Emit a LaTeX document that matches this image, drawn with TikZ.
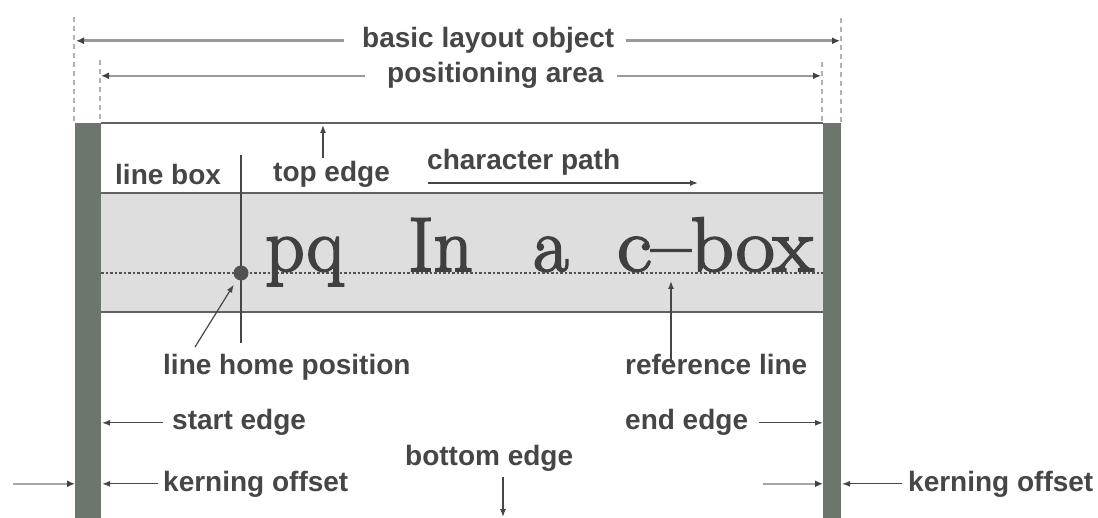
\documentclass[tikz,border=0pt]{standalone}
\usepackage{fontspec}
\usetikzlibrary{arrows.meta}
\newfontfamily\labfont{Liberation Sans}
\newfontfamily\bigfont[FakeBold=2.5]{Latin Modern Roman}
\definecolor{barcol}{RGB}{108,118,108}
\definecolor{labcol}{RGB}{70,70,70}
\begin{document}
\begin{tikzpicture}[x=1pt,y=-1pt,
  lab/.style={font=\labfont\bfseries\fontsize{28}{30}\selectfont, text=labcol, inner sep=0pt, anchor=base west},
  dimarrow/.style={draw=black!40, line width=2.6pt, -{Latex[length=8pt,width=7pt,color=black!75]}},
  tiparrow/.style={draw=black!72, line width=1.2pt, -{Latex[length=8pt,width=6pt]}},
  lightarrow/.style={draw=black!35, line width=2.6pt, -{Latex[length=8pt,width=7pt,color=black!75]}},
  guide/.style={draw=black!30, line width=1.3pt, dash pattern=on 5pt off 4pt},
  frameline/.style={draw=black!62, line width=1.8pt},
]
\useasboundingbox (0,0) rectangle (1098,518);
\fill[white] (0,0) rectangle (1098,518);

% line box band
\fill[black!13] (101,193) rectangle (823,312);
\draw[frameline] (101,123) -- (823,123);
\draw[frameline] (101,193) -- (823,193);
\draw[frameline] (101,312) -- (823,312);
\draw[black!68, line width=1.3pt, dash pattern=on 2.5pt off 2pt] (101,273) -- (823,273);

% bars
\fill[barcol] (75,123) rectangle (101,518);
\fill[barcol] (823,123) rectangle (841,518);

% guides
\draw[guide] (74,17) -- (74,123);
\draw[guide] (100,60) -- (100,123);
\draw[guide] (822,62) -- (822,123);
\draw[guide] (841,18) -- (841,123);

% coordinates
\coordinate (bloL) at (76,41);
\coordinate (bloR) at (840,41);
\coordinate (paL) at (101,76);
\coordinate (paR) at (821,76);
\coordinate (lbarE) at (102,0);
\coordinate (lbarW) at (75,0);
\coordinate (rbarW) at (823,0);
\coordinate (rbarE) at (842,0);

% labels
\node[lab] (blo) at (362,48) {basic layout object};
\node[lab] (pa) at (387,83) {positioning area};
\node[lab] (linebox) at (115,185) {line box};
\node[lab] (topedge) at (273,182) {top edge};
\node[lab] (charpath) at (427,170) {character path};
\node[lab] (lhp) at (163,375) {line home position};
\node[lab] (refline) at (625,375) {reference line};
\node[lab] (startedge) at (172,430) {start edge};
\node[lab] (endedge) at (625,430) {end edge};
\node[lab] (botedge) at (405,465) {bottom edge};
\node[lab] (kernL) at (163,491) {kerning offset};
\node[lab] (kernR) at (908,491) {kerning offset};

% big sample text
\node[anchor=base west, inner sep=0pt, font=\bigfont\fontsize{77}{80}\selectfont, text=black!75] (sample) at (265,271)
  {\makebox[143pt][l]{pq}\makebox[125pt][l]{In}\makebox[84pt][l]{a}\scalebox{1.1}[1]{c–box}};

% home position
\draw[black!72, line width=1.2pt] (241,155) -- (241,343);
\node[circle, fill=black!68, minimum size=15pt, inner sep=0pt] (home) at (241,273) {};

% dimension arrows
\draw[dimarrow, shorten <=18pt] (blo.west) -- (blo.west -| bloL);
\draw[dimarrow, shorten <=12pt] (blo.east) -- (blo.east -| bloR);
\draw[dimarrow, shorten <=22pt] (pa.west) -- (pa.west -| paL);
\draw[dimarrow, shorten <=13pt] (pa.east) -- (pa.east -| paR);

% top edge
\coordinate (teS) at (323,158);
\coordinate (teE) at (323,125);
\draw[tiparrow] (teS) -- (teE);

% character path
\coordinate (cpS) at (428,183);
\coordinate (cpE) at (698,183);
\draw[tiparrow] (cpS) -- (cpE);

% line home position
\coordinate (lhpS) at (195,347);
\draw[tiparrow, shorten >=6pt] (lhpS) -- (home);

% reference line
\coordinate (rlS) at (671,363);
\coordinate (rlE) at (671,281);
\draw[tiparrow] (rlS) -- (rlE);

% start / end edge
\draw[tiparrow, shorten <=9pt] (startedge.west) -- (startedge.west -| lbarE);
\draw[tiparrow, shorten <=11pt] (endedge.east) -- (endedge.east -| rbarW);

% bottom edge
\coordinate (beS) at (503,477);
\coordinate (beE) at (503,517);
\draw[tiparrow] (beS) -- (beE);

% kerning offsets
\coordinate (kLo) at (13,0);
\coordinate (kRo) at (763,0);
\draw[lightarrow] (kernL.west -| kLo) -- (kernL.west -| lbarW);
\draw[tiparrow, shorten <=5pt] (kernL.west) -- (kernL.west -| lbarE);
\draw[lightarrow] (kernR.west -| kRo) -- (kernR.west -| rbarW);
\draw[tiparrow, shorten <=6pt] (kernR.west) -- (kernR.west -| rbarE);
\end{tikzpicture}
\end{document}
